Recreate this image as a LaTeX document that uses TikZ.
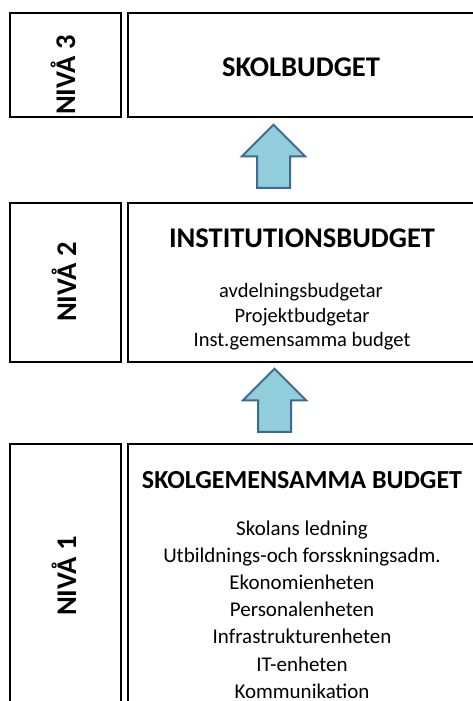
\documentclass[tikz,border=0pt]{standalone}
\usepackage{fontspec}
\setmainfont{Carlito}
\usetikzlibrary{shapes.arrows,shadows}
\definecolor{arrowfill}{RGB}{146,205,220}
\definecolor{arrowline}{RGB}{62,106,150}
\tikzset{
  levelbox/.style={shape=rectangle,draw,line width=1.3pt,
    drop shadow={shadow xshift=1pt,shadow yshift=-1pt,fill=black!55,opacity=1},
    fill=white,inner sep=0pt},
  levellabel/.style={rotate=90,anchor=base,font=\fontsize{28.5}{34}\selectfont\bfseries},
  title/.style={anchor=base,font=\fontsize{28.5}{34}\selectfont\bfseries},
  item/.style={anchor=base,font=\fontsize{20.5}{25}\selectfont},
  bigitem/.style={anchor=base,font=\fontsize{21}{25}\selectfont},
  uparrow/.style={single arrow,draw=arrowline,fill=arrowfill,line width=2pt,
    shape border rotate=90,inner sep=15.5pt,minimum height=63pt,
    single arrow head extend=15pt}
}
\begin{document}
\begin{tikzpicture}[x=1pt,y=-1pt]
\useasboundingbox (0,0) rectangle (472,701);
% boxes
\node (L3) at (65.5,65) [levelbox,minimum width=111pt,minimum height=104pt]{};
\node (B3) at (303,65) [levelbox,minimum width=350pt,minimum height=104pt]{};
\node (L2) at (65.5,282.5) [levelbox,minimum width=111pt,minimum height=159pt]{};
\node (B2) at (303,282.5) [levelbox,minimum width=350pt,minimum height=159pt]{};
\node (L1) at (65.5,577) [levelbox,minimum width=111pt,minimum height=266pt]{};
\node (B1) at (303,577) [levelbox,minimum width=350pt,minimum height=266pt]{};
% level labels
\node (N3) at (75,75) [levellabel]{NIVÅ 3};
\node (N2) at (76,282) [levellabel]{NIVÅ 2};
\node (N1) at (76,576) [levellabel]{NIVÅ 1};
% titles
\node (T3) at (301,76) [title]{SKOLBUDGET};
\node (T2) at (302,247) [title]{INSTITUTIONSBUDGET};
\node (T1) at (302,488) [title,font=\fontsize{26}{31}\selectfont\bfseries]{SKOLGEMENSAMMA BUDGET};
% contents
\node (I21) at (301,297) [item]{avdelningsbudgetar};
\node (I22) at (302,322) [item]{Projektbudgetar};
\node (I23) at (302,346.5) [item]{Inst.gemensamma budget};
\foreach \txt [count=\i] in {Skolans ledning,Utbildnings-och forsskningsadm.,
  Ekonomienheten,Personalenheten,Infrastrukturenheten,IT-enheten,Kommunikation}
  \node (I1\i) at (302,535+27.2*\i-27.2) [bigitem]{\txt};
% arrows
\node (A2) at (273.5,164.5) [uparrow]{};
\node (A1) at (274.5,408.5) [uparrow]{};
\end{tikzpicture}
\end{document}
